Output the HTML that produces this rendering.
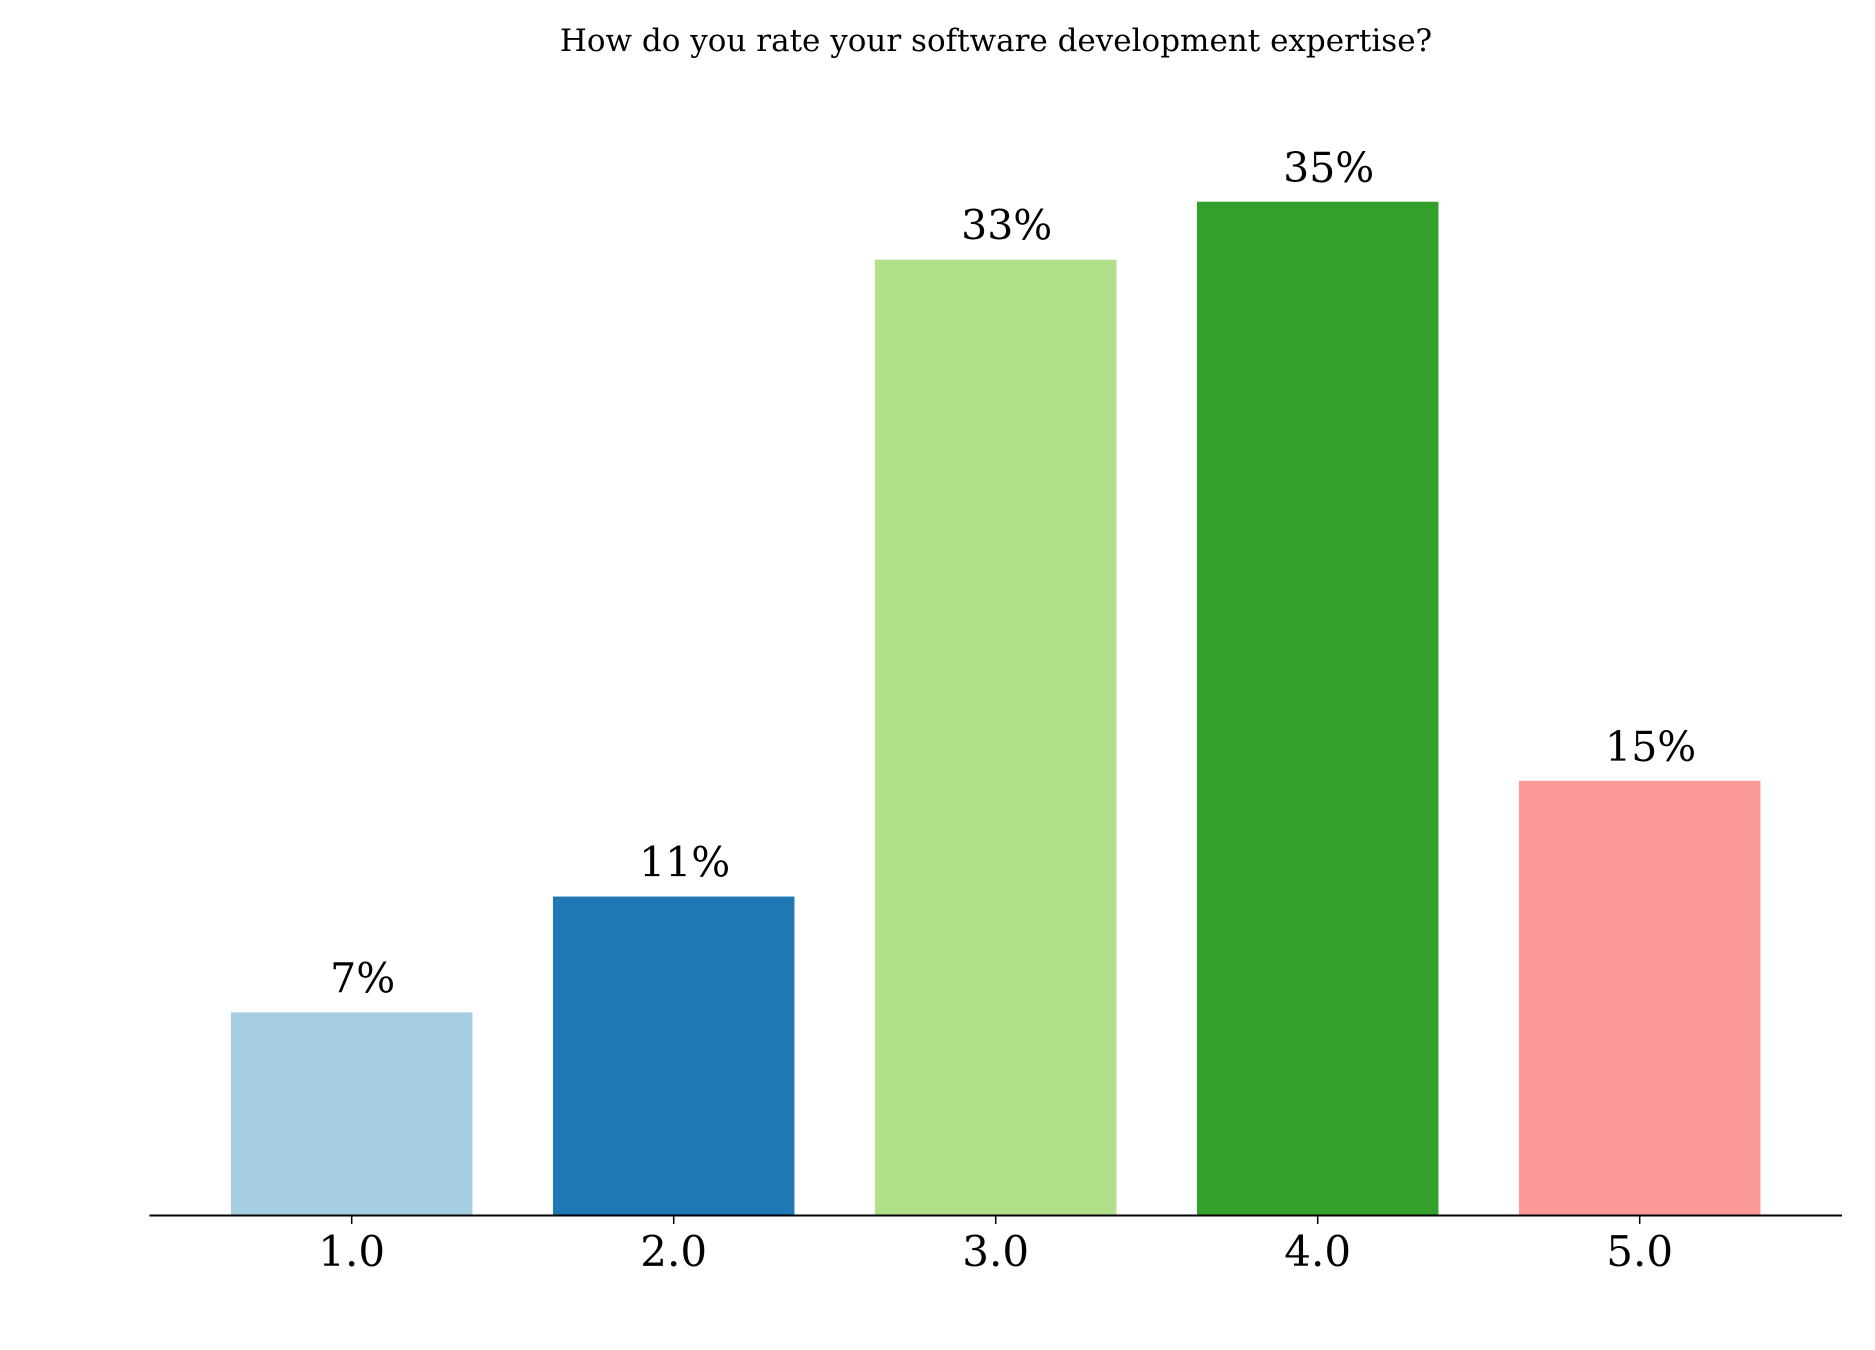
<!DOCTYPE html>
<html><head><meta charset="utf-8"><style>html,body{margin:0;padding:0;background:#fff}svg{display:block}text{font-family:"DejaVu Serif","Liberation Serif",serif;fill:#000}</style></head>
<body>
<svg id="chart" width="1875" height="1350" viewBox="0 0 1875 1350" xmlns="http://www.w3.org/2000/svg">
<text x="996" y="51" font-size="31" text-anchor="middle">How do you rate your software development expertise?</text>
<g id="bars"></g>
<line x1="149.5" x2="1842" y1="1215.5" y2="1215.5" stroke="#000" stroke-width="2"/>
<g id="ticks"></g>
</svg>
<script>
const categories = ["1.0","2.0","3.0","4.0","5.0"];
const values = [7, 11, 33, 35, 15];
const valueLabels = ["7%","11%","33%","35%","15%"];
const colors = ["#a6cee3","#1f78b4","#b2df8a","#33a02c","#fb9a99"];
const NS = "http://www.w3.org/2000/svg";
const baseY = 1215, pxPerUnit = 28.95;
const x0 = 351.7, step = 322, barW = 241.5;
function xScale(i){ return x0 + i*step; }
function yScale(v){ return baseY - v*pxPerUnit; }
const bars = document.getElementById('bars'), ticks = document.getElementById('ticks');
values.forEach((v,i)=>{
  const r = document.createElementNS(NS,'rect');
  
  
  r.setAttribute('x', xScale(i)-barW/2); r.setAttribute('width', barW);
  r.setAttribute('y', yScale(v)); r.setAttribute('height', baseY - yScale(v));
  r.setAttribute('fill', colors[i]);
  bars.appendChild(r);
  const t = document.createElementNS(NS,'text');
  
  
  t.setAttribute('x', xScale(i)+11); t.setAttribute('y', yScale(v)-20);
  t.setAttribute('font-size','41'); t.setAttribute('text-anchor','middle');
  t.textContent = valueLabels[i];
  bars.appendChild(t);
  const tk = document.createElementNS(NS,'line');
  
  
  tk.setAttribute('x1', xScale(i)); tk.setAttribute('x2', xScale(i));
  tk.setAttribute('y1', baseY); tk.setAttribute('y2', baseY+9);
  tk.setAttribute('stroke','#000'); tk.setAttribute('stroke-width','1.5');
  ticks.appendChild(tk);
  const tl = document.createElementNS(NS,'text');
  
  
  tl.setAttribute('x', xScale(i)); tl.setAttribute('y', 1266);
  tl.setAttribute('font-size','42'); tl.setAttribute('text-anchor','middle');
  tl.textContent = categories[i];
  ticks.appendChild(tl);
});
</script>
</body></html>
